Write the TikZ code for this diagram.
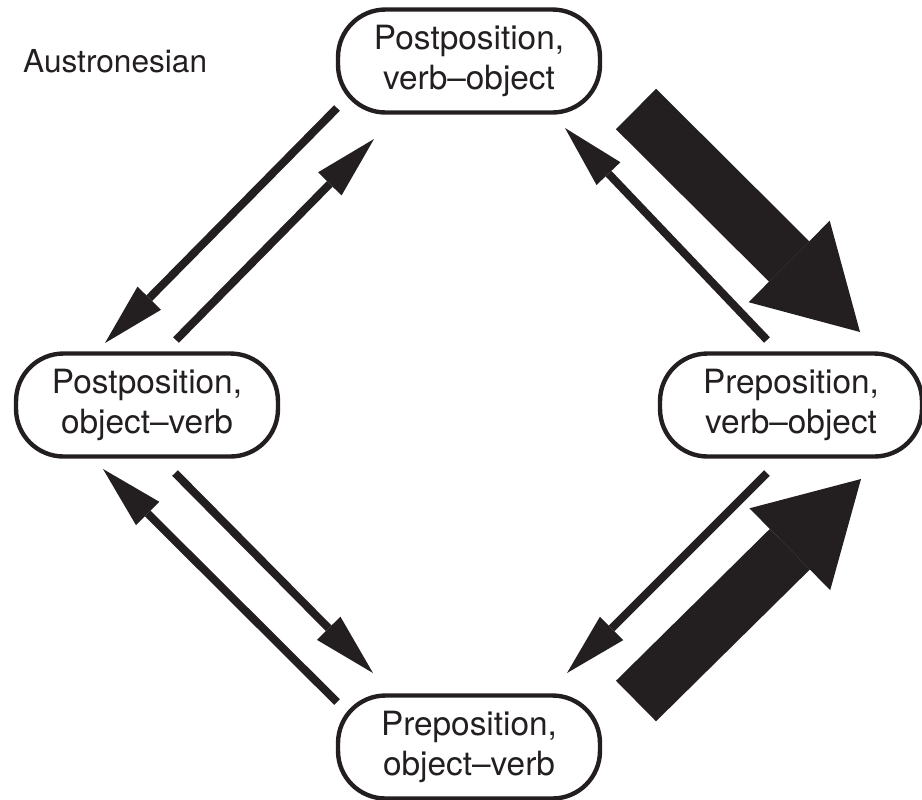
\documentclass[tikz,border=0pt]{standalone}
\usepackage{fontspec}
\setmainfont{TeX Gyre Heros}
\usepackage{tikz}
\usetikzlibrary{arrows.meta, positioning, calc}
\definecolor{myink}{RGB}{35,31,32}
\tikzset{
  statebox/.style={rectangle, draw=myink, text=myink, line width=2.5pt, rounded corners=0.95cm, minimum width=5.24cm, minimum height=2.06cm, align=center, font=\fontsize{19}{23}\selectfont, inner sep=0pt},
  thinarrow/.style={-{Triangle[length=1.26cm, width=0.66cm, line width=0pt]}, line width=0.16cm, color=myink},
  thickarrow/.style={-{Triangle[length=2.0cm, width=2.3cm, line width=0pt]}, line width=1.14cm, color=myink}
}
\begin{document}
\begin{tikzpicture}[x=0.02cm, y=-0.02cm]
  \useasboundingbox (0,0) rectangle (922,799);
  % Word order states
  \node[statebox] (pvo) at (469,61) {Postposition,\\verb--object};
  \node[statebox] (pov) at (147,405) {Postposition,\\object--verb};
  \node[statebox] (prvo) at (791,405) {Preposition,\\verb--object};
  \node[statebox] (prov) at (469,747) {Preposition,\\object--verb};
  \node[anchor=base west, text=myink, font=\fontsize{18}{22}\selectfont] (family) at (17,72) {Austronesian};

  % Arrow ends
  \coordinate (pvoA) at (337,108);  \coordinate (povA) at (105,343);
  \coordinate (povB) at (176,340);  \coordinate (pvoB) at (374,139);
  \coordinate (prvoA) at (767,340); \coordinate (pvoC) at (565,128);
  \coordinate (pvoD) at (636,109);  \coordinate (prvoB) at (860,332);
  \coordinate (provA) at (337,702); \coordinate (povC) at (103,469);
  \coordinate (povD) at (175,473);  \coordinate (provB) at (373,673);
  \coordinate (prvoC) at (767,473); \coordinate (provC) at (567,673);
  \coordinate (provD) at (636,701); \coordinate (prvoD) at (861,479);

  % Top left
  \draw[thinarrow] (pvoA) -- (povA);
  \draw[thinarrow] (povB) -- (pvoB);
  % Top right
  \draw[thinarrow] (prvoA) -- (pvoC);
  \draw[thickarrow] (pvoD) -- (prvoB);
  % Bottom left
  \draw[thinarrow] (provA) -- (povC);
  \draw[thinarrow] (povD) -- (provB);
  % Bottom right
  \draw[thinarrow] (prvoC) -- (provC);
  \draw[thickarrow] (provD) -- (prvoD);
\end{tikzpicture}
\end{document}
